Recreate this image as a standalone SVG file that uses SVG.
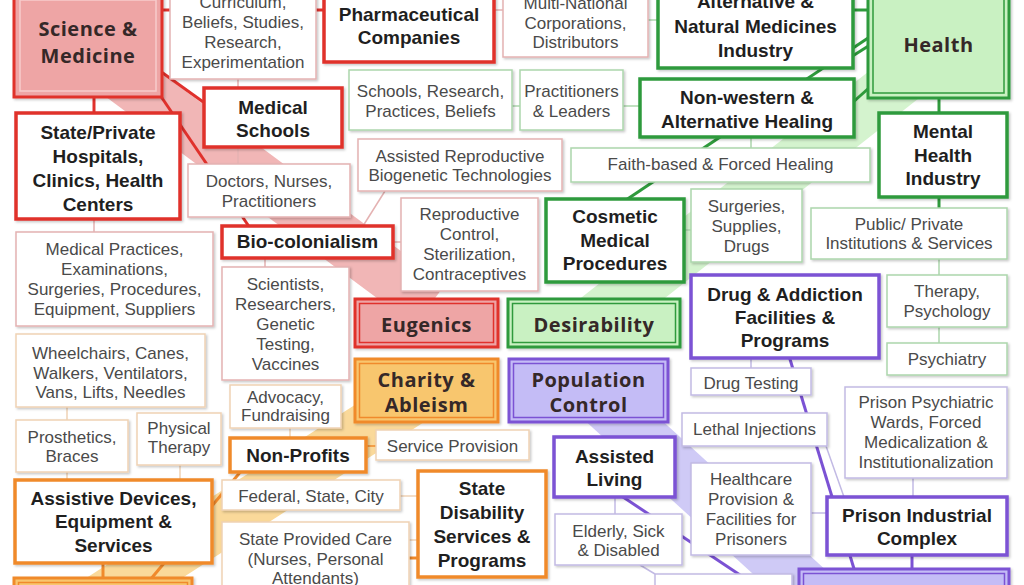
<svg xmlns="http://www.w3.org/2000/svg" width="1024" height="585" viewBox="0 0 1024 585">
<defs>
<filter id="sh" x="-10%" y="-10%" width="130%" height="130%"><feDropShadow dx="1.5" dy="1.5" stdDeviation="1" flood-color="#000" flood-opacity="0.22"/></filter>
<style>
.sb{fill:#fff;stroke-width:3.5;filter:url(#sh)}
.pb{fill:#fff;stroke-width:1.5;filter:url(#sh)}
.db{stroke-width:3;filter:url(#sh)}
.di{fill:none;stroke-width:1.5}
.r{stroke:#e0312c}.g{stroke:#2f9a3c}.o{stroke:#f08a2c}.p{stroke:#7b52d4}
.rp{stroke:#e4b2b2}.gp{stroke:#acd6ac}.op{stroke:#efd2b4}.pp{stroke:#c2bae4}
.bt{font-family:"Liberation Sans",Arial,sans-serif;font-weight:700;font-size:19px;fill:#1f1f1f;text-anchor:middle}
.rt{font-family:"Liberation Sans",Arial,sans-serif;font-size:17px;fill:#4a4a4a;text-anchor:middle}
.ct{font-family:"Open Sans","DejaVu Sans",sans-serif;font-weight:700;font-size:20px;fill:#352828;text-anchor:middle;letter-spacing:0.5px}
.band{fill:none;stroke-linecap:butt}
#connectors line{fill:none}
.sl{stroke-width:3}
.pl{stroke-width:1.5}
</style>
</defs>
<rect width="1024" height="585" fill="#fff"/>
<g id="bands">
<line class="band" x1="100" y1="60" x2="430" y2="305" stroke="#f1b6b6" stroke-width="52"/>
<line class="band" x1="938" y1="50" x2="595" y2="320" stroke="#d4f3ce" stroke-width="52"/>
<line class="band" x1="426" y1="390" x2="100" y2="600" stroke="#fad99a" stroke-width="52"/>
<line class="band" x1="590" y1="390" x2="820" y2="600" stroke="#cfcaf6" stroke-width="52"/>
</g>
<g id="connectors">
<line class="r sl" x1="160" y1="10" x2="172" y2="10"/>
<line class="r sl" x1="314" y1="10" x2="326" y2="10"/>
<line class="rp pl" x1="494" y1="10" x2="503" y2="10"/>
<line class="r sl" x1="94" y1="95" x2="94" y2="115"/>
<line class="r sl" x1="160" y1="71" x2="206" y2="104"/>
<line class="r sl" x1="160" y1="95" x2="250" y2="228"/>
<line class="rp pl" x1="238" y1="79" x2="238" y2="88"/>
<line class="rp pl" x1="238" y1="147" x2="238" y2="164"/>
<line class="rp pl" x1="94" y1="219" x2="94" y2="232"/>
<line class="rp pl" x1="265" y1="258" x2="265" y2="267"/>
<line class="rp pl" x1="393" y1="242" x2="401" y2="242"/>
<line class="rp pl" x1="363" y1="226" x2="385" y2="191"/>
<line class="gp pl" x1="648" y1="20" x2="658" y2="20"/>
<line class="g sl" x1="851" y1="10" x2="870" y2="10"/>
<line class="g sl" x1="851" y1="57" x2="870" y2="45"/>
<line class="g sl" x1="851" y1="104" x2="870" y2="87"/>
<line class="g sl" x1="880" y1="30" x2="626" y2="200"/>
<line class="gp pl" x1="512" y1="106" x2="520" y2="106"/>
<line class="gp pl" x1="623" y1="106" x2="640" y2="106"/>
<line class="gp pl" x1="751" y1="137" x2="751" y2="148"/>
<line class="g sl" x1="939" y1="96" x2="939" y2="115"/>
<line class="g sl" x1="939" y1="196" x2="939" y2="208"/>
<line class="gp pl" x1="939" y1="259" x2="939" y2="275"/>
<line class="gp pl" x1="939" y1="327" x2="939" y2="343"/>
<line class="gp pl" x1="684" y1="230" x2="691" y2="230"/>
<line class="pp pl" x1="751" y1="358" x2="751" y2="368"/>
<line class="p sl" x1="789" y1="356" x2="855" y2="572"/>
<line class="pp pl" x1="826" y1="446" x2="844" y2="497"/>
<line class="pp pl" x1="811" y1="513" x2="827" y2="513"/>
<line class="pp pl" x1="913" y1="478" x2="913" y2="497"/>
<line class="p sl" x1="912" y1="555" x2="912" y2="571"/>
<line class="pp pl" x1="615" y1="497" x2="615" y2="514"/>
<line class="p sl" x1="620" y1="495" x2="740" y2="575"/>
<line class="pp pl" x1="640" y1="565" x2="655" y2="574"/>
<line class="op pl" x1="67" y1="407" x2="67" y2="420"/>
<line class="op pl" x1="67" y1="472" x2="67" y2="480"/>
<line class="op pl" x1="180" y1="465" x2="180" y2="480"/>
<line class="o sl" x1="242" y1="470" x2="150" y2="580"/>
<line class="op pl" x1="290" y1="428" x2="290" y2="438"/>
<line class="o pl" x1="366" y1="446" x2="376" y2="446"/>
<line class="op pl" x1="400" y1="496" x2="418" y2="496"/>
<line class="op pl" x1="409" y1="540" x2="418" y2="540"/>
<line class="o sl" x1="409" y1="558" x2="418" y2="558"/>
<line class="o sl" x1="103" y1="562" x2="103" y2="579"/>
</g>
<g id="science-medicine"><rect class="db r" x="14" y="-6" width="148" height="103" fill="#eea5a5"/><rect x="20" y="0" width="136" height="91" fill="none" stroke="#f7cccc" stroke-width="1.5"/><text class="ct"><tspan x="88" y="36">Science &amp;</tspan><tspan x="88" y="63">Medicine</tspan></text></g>
<g id="curriculum"><rect class="pb rp" x="170" y="-6" width="146" height="85"/><text class="rt"><tspan x="243" y="8">Curriculum,</tspan><tspan x="243" y="28">Beliefs, Studies,</tspan><tspan x="243" y="48">Research,</tspan><tspan x="243" y="68">Experimentation</tspan></text></g>
<g id="pharma"><rect class="sb r" x="324" y="-6" width="170" height="68"/><text class="bt"><tspan x="409" y="21">Pharmaceutical</tspan><tspan x="409" y="44">Companies</tspan></text></g>
<g id="multinational"><rect class="pb rp" x="503" y="-6" width="145" height="63"/><text class="rt"><tspan x="575.5" y="9">Multi-National</tspan><tspan x="575.5" y="29">Corporations,</tspan><tspan x="575.5" y="48">Distributors</tspan></text></g>
<g id="medical-schools"><rect class="sb r" x="204" y="88" width="138" height="59"/><text class="bt"><tspan x="273" y="114">Medical</tspan><tspan x="273" y="137">Schools</tspan></text></g>
<g id="hospitals"><rect class="sb r" x="16" y="113" width="164" height="106"/><text class="bt"><tspan x="98" y="139">State/Private</tspan><tspan x="98" y="163">Hospitals,</tspan><tspan x="98" y="187">Clinics, Health</tspan><tspan x="98" y="211">Centers</tspan></text></g>
<g id="doctors"><rect class="pb rp" x="188" y="164" width="162" height="53"/><text class="rt"><tspan x="269" y="187">Doctors, Nurses,</tspan><tspan x="269" y="207">Practitioners</tspan></text></g>
<g id="assisted-repro"><rect class="pb rp" x="358" y="139" width="204" height="52"/><text class="rt"><tspan x="460" y="162">Assisted Reproductive</tspan><tspan x="460" y="181">Biogenetic Technologies</tspan></text></g>
<g id="bio-colonialism"><rect class="sb r" x="222" y="226" width="171" height="32"/><text class="bt"><tspan x="307.5" y="248">Bio-colonialism</tspan></text></g>
<g id="repro-control"><rect class="pb rp" x="401" y="198" width="137" height="93"/><text class="rt"><tspan x="469.5" y="220">Reproductive</tspan><tspan x="469.5" y="240">Control,</tspan><tspan x="469.5" y="260">Sterilization,</tspan><tspan x="469.5" y="280">Contraceptives</tspan></text></g>
<g id="medical-practices"><rect class="pb rp" x="16" y="232" width="197" height="94"/><text class="rt"><tspan x="114.5" y="255">Medical Practices,</tspan><tspan x="114.5" y="275">Examinations,</tspan><tspan x="114.5" y="295">Surgeries, Procedures,</tspan><tspan x="114.5" y="315">Equipment, Suppliers</tspan></text></g>
<g id="scientists"><rect class="pb rp" x="222" y="267" width="127" height="113"/><text class="rt"><tspan x="285.5" y="290">Scientists,</tspan><tspan x="285.5" y="310">Researchers,</tspan><tspan x="285.5" y="330">Genetic</tspan><tspan x="285.5" y="350">Testing,</tspan><tspan x="285.5" y="370">Vaccines</tspan></text></g>
<g id="eugenics"><rect class="db r" x="355" y="299" width="143" height="48" fill="#eea5a5"/><rect class="di r" x="359.5" y="303.5" width="134" height="39"/><text class="ct"><tspan x="426.5" y="332">Eugenics</tspan></text></g>
<g id="alternative-medicines"><rect class="sb g" x="658" y="-6" width="195" height="74"/><text class="bt"><tspan x="755.5" y="8">Alternative &amp;</tspan><tspan x="755.5" y="33">Natural Medicines</tspan><tspan x="755.5" y="57">Industry</tspan></text></g>
<g id="health"><rect class="db g" x="868" y="-6" width="141" height="104" fill="#c9f1c2"/><rect class="di g" x="873" y="-1" width="131" height="94"/><text class="ct"><tspan x="938.5" y="52">Health</tspan></text></g>
<g id="non-western"><rect class="sb g" x="640" y="79" width="214" height="58"/><text class="bt"><tspan x="747" y="104">Non-western &amp;</tspan><tspan x="747" y="128">Alternative Healing</tspan></text></g>
<g id="schools-research"><rect class="pb gp" x="349" y="70" width="163" height="60"/><text class="rt"><tspan x="430.5" y="97">Schools, Research,</tspan><tspan x="430.5" y="117">Practices, Beliefs</tspan></text></g>
<g id="practitioners-leaders"><rect class="pb gp" x="520" y="70" width="103" height="60"/><text class="rt"><tspan x="571.5" y="97">Practitioners</tspan><tspan x="571.5" y="117">&amp; Leaders</tspan></text></g>
<g id="faith-based"><rect class="pb gp" x="571" y="148" width="299" height="34"/><text class="rt"><tspan x="720.5" y="170">Faith-based &amp; Forced Healing</tspan></text></g>
<g id="mental-health"><rect class="sb g" x="879" y="113" width="128" height="84"/><text class="bt"><tspan x="943" y="138">Mental</tspan><tspan x="943" y="162">Health</tspan><tspan x="943" y="185">Industry</tspan></text></g>
<g id="cosmetic"><rect class="sb g" x="546" y="199" width="138" height="83"/><text class="bt"><tspan x="615" y="223">Cosmetic</tspan><tspan x="615" y="247">Medical</tspan><tspan x="615" y="270">Procedures</tspan></text></g>
<g id="surgeries-supplies"><rect class="pb gp" x="691" y="189" width="111" height="73"/><text class="rt"><tspan x="746.5" y="212">Surgeries,</tspan><tspan x="746.5" y="232">Supplies,</tspan><tspan x="746.5" y="252">Drugs</tspan></text></g>
<g id="public-private"><rect class="pb gp" x="811" y="208" width="196" height="51"/><text class="rt"><tspan x="909" y="230">Public/ Private</tspan><tspan x="909" y="249">Institutions &amp; Services</tspan></text></g>
<g id="desirability"><rect class="db g" x="508" y="299" width="172" height="48" fill="#c9f1c2"/><rect class="di g" x="512.5" y="303.5" width="163" height="39"/><text class="ct"><tspan x="594" y="332">Desirability</tspan></text></g>
<g id="therapy"><rect class="pb gp" x="887" y="275" width="120" height="52"/><text class="rt"><tspan x="947" y="297">Therapy,</tspan><tspan x="947" y="317">Psychology</tspan></text></g>
<g id="psychiatry"><rect class="pb gp" x="887" y="343" width="120" height="32"/><text class="rt"><tspan x="947" y="365">Psychiatry</tspan></text></g>
<g id="drug-addiction"><rect class="sb p" x="691" y="275" width="188" height="83"/><text class="bt"><tspan x="785" y="301">Drug &amp; Addiction</tspan><tspan x="785" y="324">Facilities &amp;</tspan><tspan x="785" y="347">Programs</tspan></text></g>
<g id="drug-testing"><rect class="pb pp" x="691" y="368" width="120" height="27"/><text class="rt"><tspan x="751" y="389">Drug Testing</tspan></text></g>
<g id="population-control"><rect class="db p" x="509" y="359" width="159" height="63" fill="#c4bcf6"/><rect class="di p" x="513.5" y="363.5" width="150" height="54"/><text class="ct"><tspan x="588.5" y="387">Population</tspan><tspan x="588.5" y="412">Control</tspan></text></g>
<g id="prison-psychiatric"><rect class="pb pp" x="845" y="387" width="162" height="91"/><text class="rt"><tspan x="926" y="408">Prison Psychiatric</tspan><tspan x="926" y="428">Wards, Forced</tspan><tspan x="926" y="448">Medicalization &amp;</tspan><tspan x="926" y="468">Institutionalization</tspan></text></g>
<g id="lethal-injections"><rect class="pb pp" x="682" y="413" width="145" height="33"/><text class="rt"><tspan x="754.5" y="435">Lethal Injections</tspan></text></g>
<g id="assisted-living"><rect class="sb p" x="554" y="437" width="121" height="60"/><text class="bt"><tspan x="614.5" y="463">Assisted</tspan><tspan x="614.5" y="486">Living</tspan></text></g>
<g id="healthcare-prisoners"><rect class="pb pp" x="691" y="463" width="120" height="92"/><text class="rt"><tspan x="751" y="485">Healthcare</tspan><tspan x="751" y="505">Provision &amp;</tspan><tspan x="751" y="525">Facilities for</tspan><tspan x="751" y="545">Prisoners</tspan></text></g>
<g id="prison-industrial"><rect class="sb p" x="827" y="497" width="180" height="58"/><text class="bt"><tspan x="917" y="522">Prison Industrial</tspan><tspan x="917" y="545">Complex</tspan></text></g>
<g id="elderly"><rect class="pb pp" x="555" y="514" width="127" height="51"/><text class="rt"><tspan x="618.5" y="537">Elderly, Sick</tspan><tspan x="618.5" y="556">&amp; Disabled</tspan></text></g>
<g id="purple-lower-box"><rect class="pb pp" x="655" y="574" width="137" height="30"/></g>
<g id="purple-bottom"><rect class="db p" x="799" y="569" width="210" height="40" fill="#c4bcf6"/><rect class="di p" x="803.5" y="573.5" width="201" height="31"/></g>
<g id="wheelchairs"><rect class="pb op" x="16" y="334" width="189" height="73"/><text class="rt"><tspan x="110.5" y="359">Wheelchairs, Canes,</tspan><tspan x="110.5" y="379">Walkers, Ventilators,</tspan><tspan x="110.5" y="398">Vans, Lifts, Needles</tspan></text></g>
<g id="advocacy"><rect class="pb op" x="230" y="385" width="111" height="43"/><text class="rt"><tspan x="285.5" y="403">Advocacy,</tspan><tspan x="285.5" y="421">Fundraising</tspan></text></g>
<g id="charity-ableism"><rect class="db o" x="355" y="359" width="143" height="63" fill="#f8c66e"/><rect class="di o" x="359.5" y="363.5" width="134" height="54"/><text class="ct"><tspan x="426.5" y="387">Charity &amp;</tspan><tspan x="426.5" y="412">Ableism</tspan></text></g>
<g id="prosthetics"><rect class="pb op" x="16" y="420" width="112" height="52"/><text class="rt"><tspan x="72" y="443">Prosthetics,</tspan><tspan x="72" y="462">Braces</tspan></text></g>
<g id="physical-therapy"><rect class="pb op" x="137" y="413" width="84" height="52"/><text class="rt"><tspan x="179" y="434">Physical</tspan><tspan x="179" y="453">Therapy</tspan></text></g>
<g id="non-profits"><rect class="sb o" x="230" y="438" width="136" height="34"/><text class="bt"><tspan x="298" y="462">Non-Profits</tspan></text></g>
<g id="service-provision"><rect class="pb op" x="376" y="430" width="153" height="30"/><text class="rt"><tspan x="452.5" y="452">Service Provision</tspan></text></g>
<g id="federal"><rect class="pb op" x="222" y="480" width="178" height="30"/><text class="rt"><tspan x="311" y="502">Federal, State, City</tspan></text></g>
<g id="state-disability"><rect class="sb o" x="418" y="471" width="128" height="106"/><text class="bt"><tspan x="482" y="495">State</tspan><tspan x="482" y="519">Disability</tspan><tspan x="482" y="543">Services &amp;</tspan><tspan x="482" y="567">Programs</tspan></text></g>
<g id="assistive-devices"><rect class="sb o" x="15" y="480" width="197" height="83"/><text class="bt"><tspan x="113.5" y="505">Assistive Devices,</tspan><tspan x="113.5" y="528">Equipment &amp;</tspan><tspan x="113.5" y="552">Services</tspan></text></g>
<g id="state-care"><rect class="pb op" x="222" y="522" width="187" height="80"/><text class="rt"><tspan x="315.5" y="545">State Provided Care</tspan><tspan x="315.5" y="565">(Nurses, Personal</tspan><tspan x="315.5" y="584">Attendants)</tspan></text></g>
<g id="orange-bottom"><rect class="db o" x="14" y="578" width="178" height="30" fill="#f8c66e"/><rect class="di o" x="18.5" y="582.5" width="169" height="21"/></g>
</svg>
